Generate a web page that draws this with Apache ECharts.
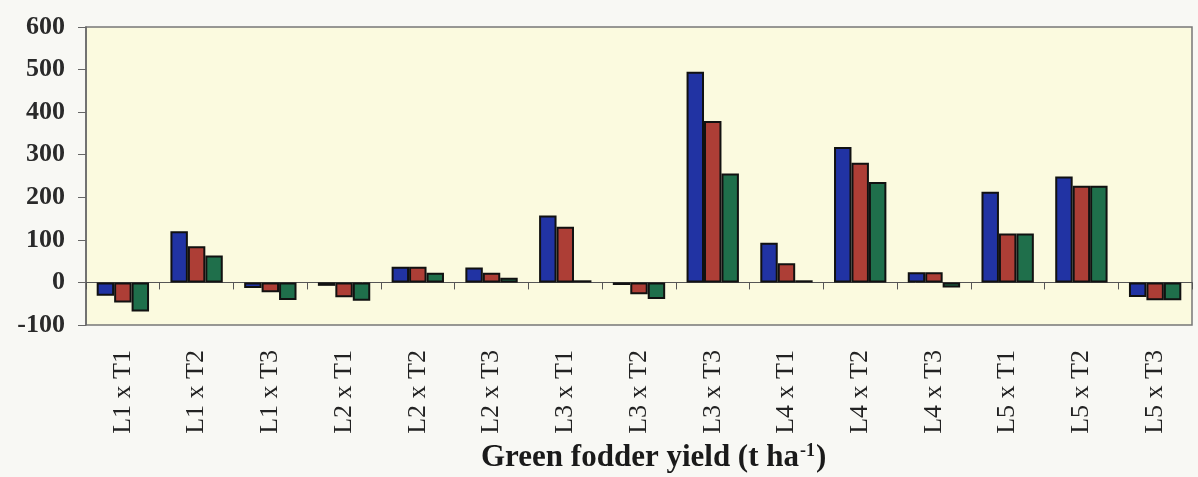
<!DOCTYPE html>
<html>
<head>
<meta charset="utf-8">
<script src="https://cdn.jsdelivr.net/npm/echarts@6/dist/echarts.min.js"></script>
<style>
  html, body { margin: 0; padding: 0; background: #f8f8f4; }
  #chart { width: 1198px; height: 477px; }
</style>
</head>
<body>
<div id="chart"></div>
<script>
// Treatment combinations (location x treatment)
const categories = ['L1 x T1', 'L1 x T2', 'L1 x T3', 'L2 x T1', 'L2 x T2', 'L2 x T3',
  'L3 x T1', 'L3 x T2', 'L3 x T3', 'L4 x T1', 'L4 x T2', 'L4 x T3',
  'L5 x T1', 'L5 x T2', 'L5 x T3'];

// Three series per combination
const seriesBlue  = [-31, 120, -13, -8, 37, 35, 157, -6, 495, 93, 318, 24, 213, 249, -34];
const seriesRed   = [-47, 85, -23, -35, 37, 23, 131, -28, 379, 45, 281, 24, 115, 227, -42];
const seriesGreen = [-68, 63, -41, -43, 23, 11, 5, -39, 256, 5, 236, -12, 115, 227, -42];

const yTicks = { min: -100, max: 600, step: 100 };

const serif = '"Liberation Serif", "Times New Roman", serif';
const colors = ['#2133a3', '#ad3e36', '#1f6f4b'];

const chart = echarts.init(document.getElementById('chart'));

function barSeries(data, color) {
  return {
    type: 'bar',
    data: data,
    barGap: '0%',
    barCategoryGap: '29%',
    itemStyle: { color: color, borderColor: '#111', borderWidth: 2 },
    animation: false
  };
}

chart.setOption({
  backgroundColor: '#f8f8f4',
  animation: false,
  title: {
    text: 'Green fodder yield (t ha{sup|-1})',
    left: 476,
    top: 437,
    textStyle: {
      fontFamily: serif,
      fontSize: 31,
      fontWeight: 'bold',
      color: '#1a1a1a',
      rich: {
        sup: {
          fontFamily: serif,
          fontSize: 18,
          fontWeight: 'bold',
          color: '#1a1a1a',
          verticalAlign: 'top',
          padding: [0, 1, 14, 1]
        }
      }
    }
  },
  grid: {
    left: 86, right: 6, top: 27, bottom: 152,
    show: true,
    backgroundColor: '#fbfadf',
    borderColor: '#777',
    borderWidth: 1.5
  },
  xAxis: [
    {
      // zero line with boundary ticks
      type: 'category',
      data: categories,
      axisLine: { onZero: true, lineStyle: { color: '#555', width: 1 } },
      axisTick: { show: true, length: 7, lineStyle: { color: '#555' } },
      axisLabel: { show: false }
    },
    {
      // category labels along the bottom
      type: 'category',
      data: categories,
      position: 'bottom',
      axisLine: { show: false, onZero: false },
      axisTick: { show: false },
      axisLabel: {
        rotate: 90,
        margin: 25,
        fontFamily: serif,
        fontSize: 26,
        color: '#222'
      }
    }
  ],
  yAxis: {
    type: 'value',
    min: yTicks.min,
    max: yTicks.max,
    interval: yTicks.step,
    splitLine: { show: false },
    axisLine: { show: true, lineStyle: { color: '#666', width: 1.5 } },
    axisTick: { show: true, length: 8, lineStyle: { color: '#666' } },
    axisLabel: {
      margin: 21,
      fontFamily: serif,
      fontSize: 26,
      fontWeight: 'bold',
      color: '#2a2a2a'
    }
  },
  series: [
    barSeries(seriesBlue, colors[0]),
    barSeries(seriesRed, colors[1]),
    barSeries(seriesGreen, colors[2])
  ]
});
</script>
</body>
</html>
